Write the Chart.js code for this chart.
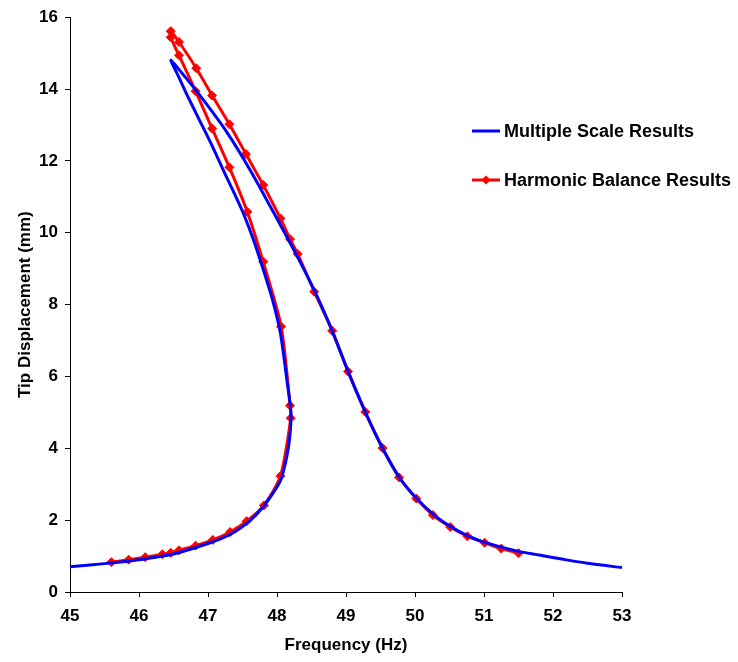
<!DOCTYPE html>
<html>
<head>
<meta charset="utf-8">
<script src="https://cdn.jsdelivr.net/npm/chart.js@4/dist/chart.umd.min.js"></script>
<style>
  html, body { margin: 0; padding: 0; background: #fff; }
  #wrap { width: 738px; height: 662px; }
</style>
</head>
<body>
<div id="wrap"><canvas id="freqChart" width="738" height="662"></canvas></div>
<script>
// Multiple scale results (continuous curve), frequency in Hz / tip displacement in mm
const msFreq = [45, 45.5, 46, 46.5, 47, 47.3, 47.5, 47.7, 47.87, 48.05, 48.14, 48.19, 48.2, 48.15, 48.05, 47.94, 47.8, 47.66, 47.51, 47.38, 47.22, 47.04, 46.86, 46.68, 46.56, 46.46,
  46.59, 46.88, 47.27, 47.61, 48.02, 48.28, 48.55, 48.8, 49.03, 49.28, 49.53, 49.77, 50.0, 50.26, 50.51, 50.76, 51.0, 51.5, 51.8, 52.15, 52.5, 53];
const msDisp = [0.70, 0.79, 0.90, 1.06, 1.35, 1.58, 1.82, 2.15, 2.55, 3.1, 3.75, 4.4, 5.05, 5.8, 7.2, 8.1, 8.98, 9.8, 10.55, 11.1, 11.75, 12.5, 13.2, 13.9, 14.4, 14.8,
  14.52, 13.83, 12.81, 11.75, 10.32, 9.39, 8.36, 7.27, 6.14, 5.01, 4.0, 3.2, 2.65, 2.17, 1.83, 1.57, 1.39, 1.13, 1.03, 0.91, 0.80, 0.68];

// Harmonic balance results (markers)
const hbFreq = [45.6, 45.85, 46.09, 46.34, 46.46, 46.58, 46.82, 47.07, 47.32, 47.56, 47.81, 48.05, 48.2, 48.19, 48.06, 47.8, 47.57, 47.31, 47.06, 46.82, 46.58, 46.46,
  46.46, 46.58, 46.83, 47.06, 47.31, 47.55, 47.8, 48.05, 48.19, 48.3, 48.54, 48.8, 49.03, 49.28, 49.53, 49.77, 50.02, 50.26, 50.51, 50.76, 51.01, 51.25, 51.5];
const hbDisp = [0.83, 0.90, 0.97, 1.05, 1.09, 1.16, 1.29, 1.45, 1.67, 1.97, 2.41, 3.23, 4.84, 5.19, 7.39, 9.19, 10.58, 11.82, 12.9, 13.94, 14.94, 15.44,
  15.61, 15.31, 14.58, 13.82, 13.02, 12.19, 11.33, 10.4, 9.82, 9.41, 8.36, 7.27, 6.14, 5.01, 4.01, 3.19, 2.6, 2.14, 1.81, 1.55, 1.37, 1.21, 1.08];

const xTicks = [45, 46, 47, 48, 49, 50, 51, 52, 53];
const yTicks = [0, 2, 4, 6, 8, 10, 12, 14, 16];

const toPoints = (xs, ys) => xs.map((x, i) => ({ x: x, y: ys[i] }));

const FONT = '"Liberation Sans", Arial, sans-serif';

// legend drawn inside the plot, to the right, like the original
const sideLegend = {
  id: 'sideLegend',
  afterDraw(chart) {
    const ctx = chart.ctx;
    ctx.save();
    chart.data.datasets.forEach((ds, i) => {
      const y = 131 + i * 49;
      ctx.strokeStyle = ds.borderColor;
      ctx.lineWidth = 3;
      ctx.beginPath();
      ctx.moveTo(472, y);
      ctx.lineTo(500, y);
      ctx.stroke();
      if (ds.pointRadius > 0) {
        ctx.fillStyle = ds.borderColor;
        ctx.beginPath();
        ctx.moveTo(486, y - 4.5);
        ctx.lineTo(490.5, y);
        ctx.lineTo(486, y + 4.5);
        ctx.lineTo(481.5, y);
        ctx.closePath();
        ctx.fill();
      }
      ctx.fillStyle = '#000';
      ctx.font = 'bold 18px ' + FONT;
      ctx.textBaseline = 'middle';
      ctx.fillText(ds.label, 504, y + 1);
    });
    ctx.restore();
  }
};

new Chart(document.getElementById('freqChart').getContext('2d'), {
  type: 'scatter',
  data: {
    datasets: [
      {
        label: 'Multiple Scale Results',
        data: toPoints(msFreq, msDisp),
        showLine: true,
        borderColor: '#0000ff',
        borderWidth: 3,
        pointRadius: 0,
        tension: 0.25,
        fill: false
      },
      {
        label: 'Harmonic Balance Results',
        data: toPoints(hbFreq, hbDisp),
        showLine: true,
        borderColor: '#ff0000',
        backgroundColor: '#ff0000',
        borderWidth: 3,
        pointStyle: 'rectRot',
        pointRadius: 4.5,
        pointBorderWidth: 1,
        tension: 0.25,
        fill: false
      }
    ]
  },
  options: {
    responsive: false,
    animation: false,
    layout: { padding: { top: 15, right: 116, left: 0, bottom: 0 } },
    plugins: {
      legend: { display: false },
      tooltip: { enabled: false }
    },
    scales: {
      x: {
        type: 'linear',
        min: 45,
        max: 53,
        afterFit: s => { s.height = 70; },
        afterBuildTicks: s => { s.ticks = xTicks.map(v => ({ value: v })); },
        grid: { drawOnChartArea: false, drawTicks: true, tickLength: 5, color: '#000' },
        border: { color: '#000', width: 1 },
        ticks: { color: '#000', padding: 9, font: { family: FONT, size: 17, weight: 'bold' } },
        title: {
          display: true,
          text: 'Frequency (Hz)',
          color: '#000',
          padding: { top: 0, bottom: 6 },
          font: { family: FONT, size: 17, weight: 'bold' }
        }
      },
      y: {
        type: 'linear',
        min: 0,
        max: 16,
        afterFit: s => { s.width = 70; },
        afterBuildTicks: s => { s.ticks = yTicks.map(v => ({ value: v })); },
        grid: { drawOnChartArea: false, drawTicks: true, tickLength: 5, color: '#000' },
        border: { color: '#000', width: 1 },
        ticks: { color: '#000', padding: 7, font: { family: FONT, size: 17, weight: 'bold' } },
        title: {
          display: true,
          text: 'Tip Displacement (mm)',
          color: '#000',
          padding: { top: 15, bottom: 0 },
          font: { family: FONT, size: 17, weight: 'bold' }
        }
      }
    }
  },
  plugins: [sideLegend]
});
</script>
</body>
</html>
